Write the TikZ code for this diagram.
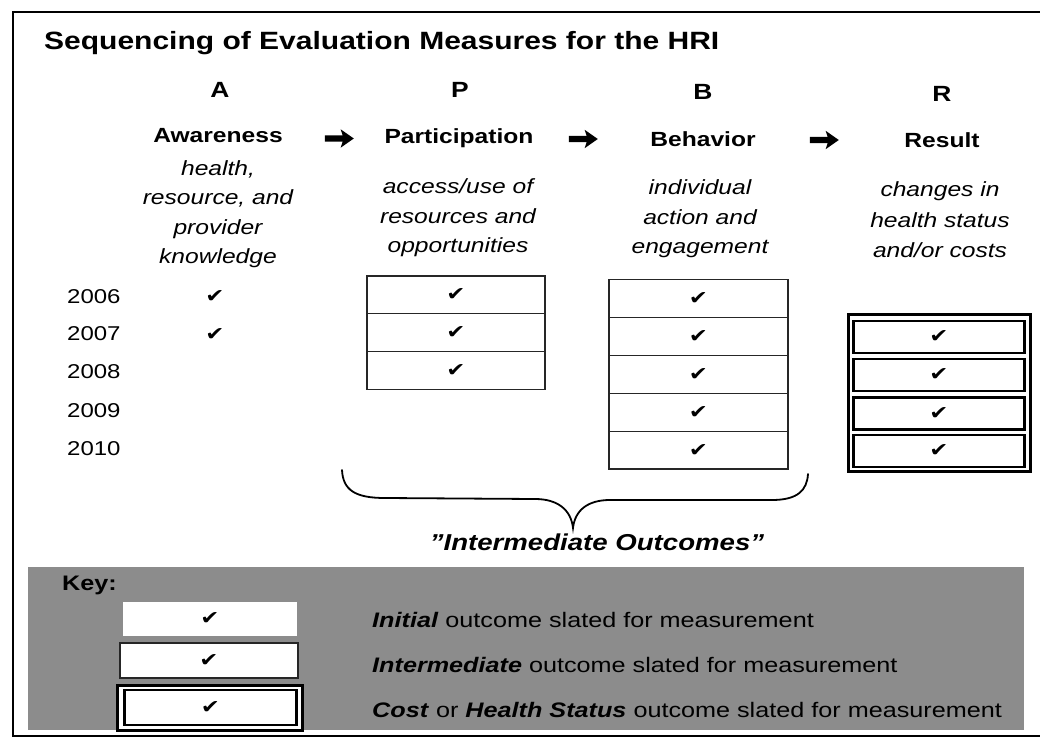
\documentclass[tikz,border=0pt]{standalone}
\usepackage{fontspec}
\setmainfont[FakeStretch=1.2]{Liberation Sans}
\newfontfamily\symfont[FakeStretch=1.2]{DejaVu Sans}
\usetikzlibrary{shapes.arrows}
\newcommand{\ck}{{\symfont\fontsize{19}{19}\selectfont ✔}}
\begin{document}
\begin{tikzpicture}[x=1pt,y=-1pt,
  titletext/.style={font=\bfseries\fontsize{25}{30}\selectfont, anchor=base west, inner sep=0},
  letter/.style={font=\bfseries\fontsize{22}{26}\selectfont, anchor=base, inner sep=0},
  headtext/.style={font=\bfseries\fontsize{20.5}{25}\selectfont, anchor=base, inner sep=0},
  desc/.style={font=\itshape\fontsize{20.5}{25}\selectfont, anchor=base, inner sep=0},
  yeartext/.style={font=\fontsize{20}{24}\selectfont, anchor=base west, inner sep=0},
  plaincheck/.style={inner sep=0},
  cellbox/.style={minimum width=178, minimum height=37.8, inner sep=0, draw=black!85, line width=1.2, fill=white},
  rcell/.style={minimum width=171, minimum height=32, inner sep=0, draw=black, line width=2.5, fill=white},
  router/.style={minimum width=181.5, minimum height=157, inner sep=0, draw=black, line width=3, fill=white},
  flow/.style={single arrow, fill=black, draw=none, inner sep=3, minimum height=29,
    single arrow head extend=6, single arrow tip angle=70, single arrow head indent=2},
  keytext/.style={font=\fontsize{21}{25}\selectfont, anchor=base west, inner sep=0},
  bracepath/.style={line width=1.8, line cap=round},
]
\useasboundingbox (0,0) rectangle (1040,743);
\fill[white] (0,0) rectangle (1040,743);

% outer frame
\draw[line width=2] (1040,12) -- (13,12) -- (13,736) -- (1040,736);

% title
\node[titletext] (title) at (44,50) {Sequencing of Evaluation Measures for the HRI};

% letters
\node[letter] (lA) at (220,98) {A};
\node[letter] (lP) at (460,98) {P};
\node[letter] (lB) at (703,100) {B};
\node[letter] (lR) at (942,102) {R};

% headers
\node[headtext] (hA) at (218,143) {Awareness};
\node[headtext] (hP) at (459,144) {Participation};
\node[headtext] (hB) at (703,147) {Behavior};
\node[headtext] (hR) at (942,148) {Result};

% arrows
\node[flow] (f1) at (337,138.5) {};
\node[flow] (f2) at (581,139) {};
\node[flow] (f3) at (822,140) {};

% descriptions
\node[desc] (dA1) at (218,176) {health,};
\node[desc] (dA2) at (218,205) {resource, and};
\node[desc] (dA3) at (218,234) {provider};
\node[desc] (dA4) at (218,263) {knowledge};
\node[desc] (dP1) at (458,194) {access/use of};
\node[desc] (dP2) at (458,223) {resources and};
\node[desc] (dP3) at (458,252) {opportunities};
\node[desc] (dB1) at (700,195) {individual};
\node[desc] (dB2) at (700,224.5) {action and};
\node[desc] (dB3) at (700,253.5) {engagement};
\node[desc] (dR1) at (940,197) {changes in};
\node[desc] (dR2) at (940,227) {health status};
\node[desc] (dR3) at (940,257) {and/or costs};

% years
\node[yeartext] (y6) at (67,303) {2006};
\node[yeartext] (y7) at (67,340.5) {2007};
\node[yeartext] (y8) at (67,378.5) {2008};
\node[yeartext] (y9) at (67,417) {2009};
\node[yeartext] (y10) at (67,455) {2010};

% A checks
\node[plaincheck] (a1) at (215,297) {\ck};
\node[plaincheck] (a2) at (215,335) {\ck};

% P cells
\node[cellbox] (p1) at (456,294.9) {\ck};
\node[cellbox] (p2) at (456,332.7) {\ck};
\node[cellbox] (p3) at (456,370.5) {\ck};

% B cells
\node[cellbox, minimum width=179] (b1) at (698.5,298.5) {\ck};
\node[cellbox, minimum width=179] (b2) at (698.5,336.4) {\ck};
\node[cellbox, minimum width=179] (b3) at (698.5,374.3) {\ck};
\node[cellbox, minimum width=179] (b4) at (698.5,412.2) {\ck};
\node[cellbox, minimum width=179] (b5) at (698.5,450.1) {\ck};

% R cells
\node[router] (rout) at (939.25,393) {};
\node[rcell] (r1) at (939,337) {\ck};
\node[rcell] (r2) at (939,375) {\ck};
\node[rcell] (r3) at (939,413.5) {\ck};
\node[rcell] (r4) at (939,451) {\ck};

% brace
\coordinate (bl) at (342,470);
\coordinate (tip) at (573,528);
\coordinate (br) at (808,474);
\draw[bracepath] (bl) .. controls (343,490) and (355,498) .. (385,498)
  -- (535,499) .. controls (558,499) and (571,510) .. (tip)
  .. controls (575,510) and (588,500) .. (610,500)
  -- (772,500) .. controls (798,500) and (807,490) .. (br);
\node[font=\bfseries\itshape\fontsize{23}{27}\selectfont, anchor=base, inner sep=0] (io) at (597,550) {"Intermediate Outcomes"};

% key area
\fill[black!45] (28,567) rectangle (1024,730);
\node[font=\bfseries\fontsize{21}{25}\selectfont, anchor=base west, inner sep=0] (key) at (62,590) {Key:};
\node[minimum width=174, minimum height=34, inner sep=0, fill=white] (k1) at (210,619) {\ck};
\node[cellbox, minimum height=35] (k2) at (209,660.5) {\ck};
\node[minimum width=185, minimum height=45, inner sep=0, draw=black, line width=3, fill=white] (k3o) at (209.5,707.5) {};
\node[minimum width=172, minimum height=35, inner sep=0, draw=black, line width=2.5, fill=white] (k3) at (210.5,707.5) {\ck};

\node[keytext] (t1) at (372,627) {\textbf{\textit{Initial}} outcome slated for measurement};
\node[keytext] (t2) at (372,672) {\textbf{\textit{Intermediate}} outcome slated for measurement};
\node[keytext] (t3) at (372,717) {\textbf{\textit{Cost}} or \textbf{\textit{Health Status}} outcome slated for measurement};
\end{tikzpicture}
\end{document}
